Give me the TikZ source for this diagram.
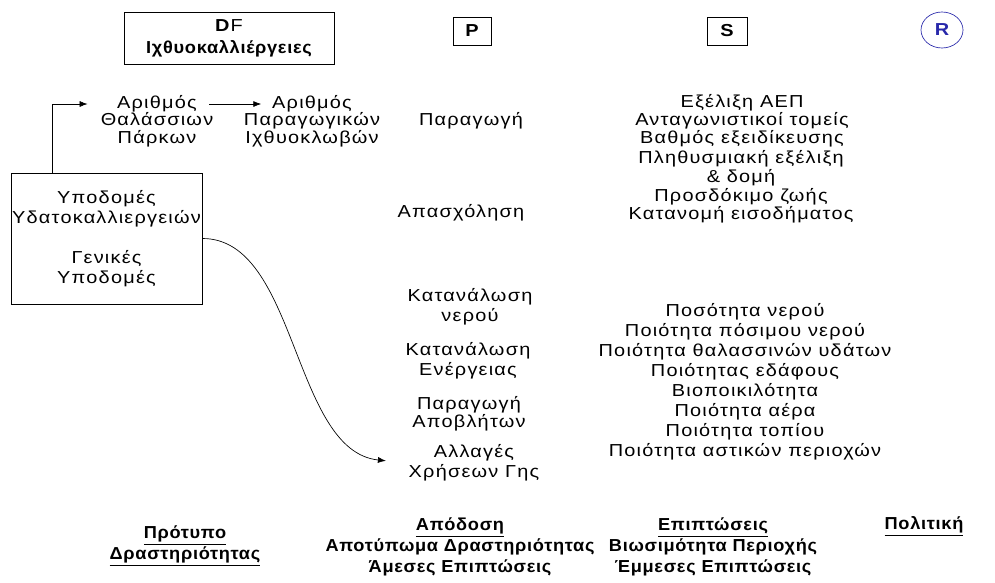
\documentclass[tikz,border=0pt]{standalone}
\usepackage{fontspec}
\setmainfont{Liberation Sans}[FakeStretch=1.15,LetterSpace=7]
\newfontfamily\headfont{Liberation Sans}[FakeStretch=1.05,LetterSpace=4]
\usetikzlibrary{positioning}
\usetikzlibrary{arrows.meta}
\usetikzlibrary{shapes.geometric}
\definecolor{rblue}{RGB}{40,40,170}

\begin{document}
\begin{tikzpicture}[x=0.75pt,y=-0.75pt]
\tikzstyle{box}=[rectangle,align=center,draw,line width=0.5pt,inner sep=1pt]
\tikzstyle{txt}=[align=center,inner sep=1pt,font=\fontsize{13}{13.5}\selectfont]
\tikzstyle{loose}=[txt,font=\fontsize{13}{15}\selectfont]
\tikzstyle{head}=[align=center,inner sep=1pt,font=\headfont\bfseries\fontsize{13}{15.5}\selectfont]
\tikzstyle{letter}=[font=\bfseries\fontsize{13}{13}\selectfont]
\tikzstyle{arr}=[-{Latex[length=6pt,width=4.5pt]},line width=0.5pt]
\useasboundingbox (0,0) rectangle (995,582);

% headings
\node[box,minimum width=157.5pt,minimum height=39pt,font=\fontsize{13}{16.5}\selectfont] at (229,38) (df) {\textbf{D}F\\\headfont\bfseries Ιχθυοκαλλιέργειες};
\node[box,letter,minimum width=28.5pt,minimum height=21pt] at (472,31) (pbox) {P};
\node[box,letter,minimum width=30pt,minimum height=21pt] at (727,31) (sbox) {S};
\node[ellipse,draw=rblue,text=rblue,letter,line width=0.5pt,inner sep=0pt,minimum width=31.5pt,minimum height=27pt] at (942,30) (rpol) {R};

% DF column
\node[txt] at (157,104) (numA) {Αριθμός};
\node[txt] at (157,130) (parks) {Θαλάσσιων\\Πάρκων};
\node[txt] at (312,104) (numB) {Αριθμός};
\node[txt] at (312,130) (cages) {Παραγωγικών\\Ιχθυοκλωβών};
\node[box,loose,minimum width=143.25pt,minimum height=98.25pt] at (106.5,238.5) (infra) {Υποδομές\\Υδατοκαλλιεργειών\\[15pt]Γενικές\\Υποδομές};

% P column
\node[txt] at (471,121) (prod) {Παραγωγή};
\node[txt] at (461,213) (empl) {Απασχόληση};
\node[loose] at (470,307) (water) {Κατανάλωση\\νερού};
\node[loose] at (468,361) (energy) {Κατανάλωση\\Ενέργειας};
\node[txt] at (469,414) (waste) {Παραγωγή\\Αποβλήτων};
\node[loose] at (474,463) (land) {Αλλαγές\\Χρήσεων Γης};

% S column
\node[txt] at (742,121) (econ) {Εξέλιξη ΑΕΠ\\Ανταγωνιστικοί τομείς\\Βαθμός εξειδίκευσης};
\node[txt,font=\fontsize{13}{14}\selectfont] at (741,187) (soc) {Πληθυσμιακή εξέλιξη\\\& δομή\\Προσδόκιμο ζωής\\Κατανομή εισοδήματος};
\node[loose] at (745,382) (env) {Ποσότητα νερού\\Ποιότητα πόσιμου νερού\\Ποιότητα θαλασσινών υδάτων\\Ποιότητας εδάφους\\Βιοποικιλότητα\\Ποιότητα αέρα\\Ποιότητα τοπίου\\Ποιότητα αστικών περιοχών};

% footer
\node[head] at (185,546) (model) {\underline{Πρότυπο}\\\underline{Δραστηριότητας}};
\node[head] at (460,547) (perf) {\underline{Απόδοση}\\Αποτύπωμα Δραστηριότητας\\Άμεσες Επιπτώσεις};
\node[head] at (713,547) (impact) {\underline{Επιπτώσεις}\\Βιωσιμότητα Περιοχής\\Έμμεσες Επιπτώσεις};
\node[head] at (924,526) (policy) {\underline{Πολιτική}};

% links
\draw[arr,shorten >=21pt] ([xshift=31.5pt]infra.north west) |- (numA.west);
\draw[arr,shorten <=8pt,shorten >=7pt] (numA.east) -- (numB.west);
\draw[arr,shorten >=16pt] (infra.east) .. controls +(95,0) and +(-115,-12) .. (land.west);
\end{tikzpicture}
\end{document}
